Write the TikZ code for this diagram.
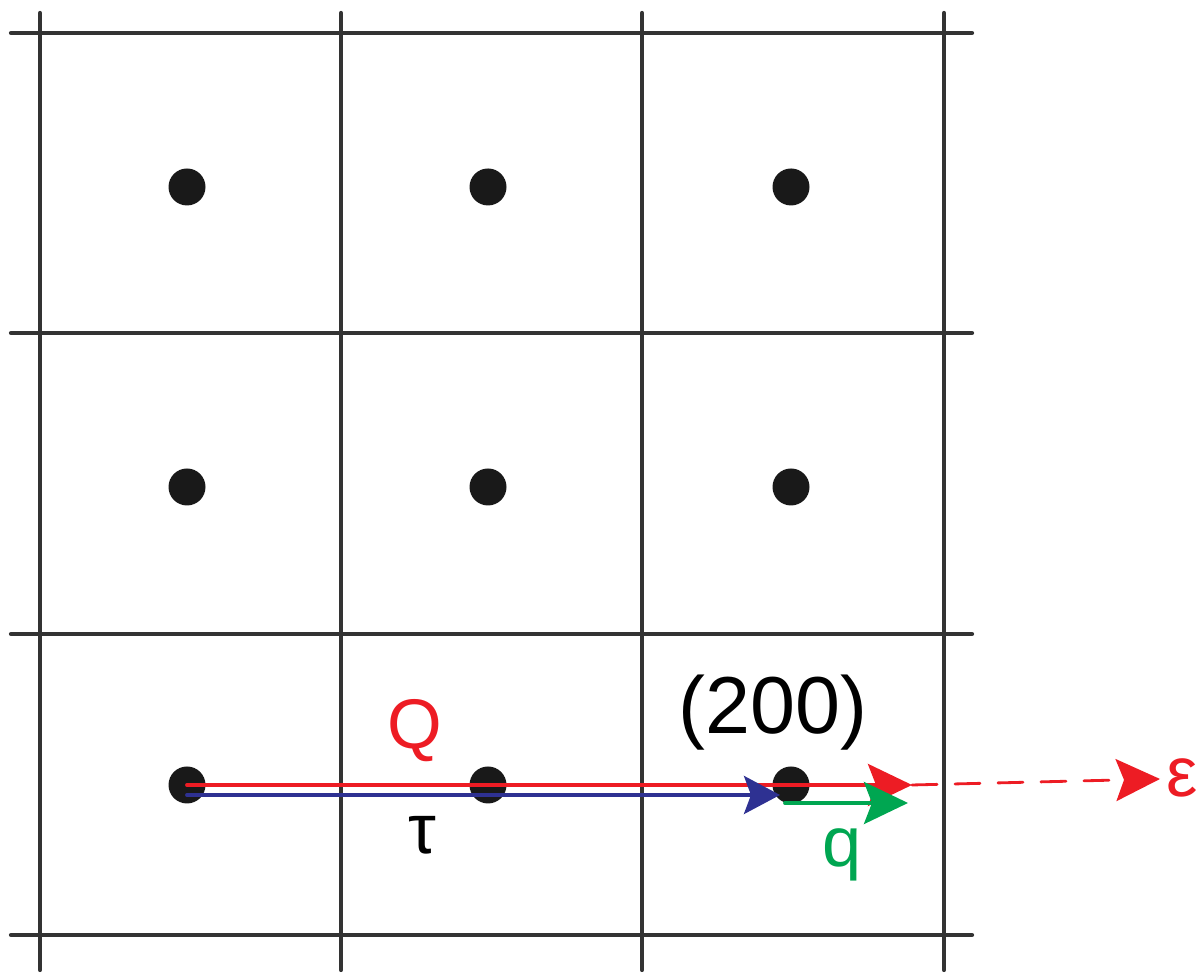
\documentclass[tikz,border=0pt]{standalone}
\usepackage{fontspec}
\setmainfont{Liberation Sans}
\usetikzlibrary{arrows.meta}

\definecolor{vecred}{RGB}{237,28,36}
\definecolor{vecblue}{RGB}{46,49,146}
\definecolor{vecgreen}{RGB}{0,166,81}

\begin{document}
\begin{tikzpicture}[line cap=round,line join=round,
  gridline/.style={line width=1.2pt,black!80},
  site/.style={circle,fill=black!90,inner sep=0pt,minimum size=0.37cm},
  vec/.style={line width=1.1pt,-{Stealth[length=0.44cm,width=0.42cm,inset=0.08cm]}},
  lab/.style={inner sep=0pt,font=\fontsize{20}{24}\selectfont}]
\useasboundingbox (0,0) rectangle (12.04,9.74);
% lattice cells
\foreach \x in {0.40,3.41,6.42,9.44} \draw[gridline] (\x,0.04)--(\x,9.61);
\foreach \y in {0.39,3.40,6.41,9.41} \draw[gridline] (0.11,\y)--(9.72,\y);
% lattice sites
\foreach \x/\i in {1.87/1,4.88/2,7.91/3}
  \foreach \y/\j in {1.89/1,4.87/2,7.87/3}
    \node[site] (s\i\j) at (\x,\y) {};
\coordinate (Qend) at (9.12,1.89);
\coordinate (tstart) at (1.87,1.79);
\coordinate (tend) at (7.80,1.79);
\coordinate (qstart) at (7.85,1.71);
\coordinate (qend) at (9.08,1.71);
\coordinate (eend) at (11.60,1.95);
\draw[vec,vecred] (s11.center)--(Qend);
\draw[vec,vecblue,-{Stealth[length=0.36cm,width=0.38cm,inset=0.07cm]}] (tstart)--(tend);
\draw[vec,vecgreen] (qstart)--(qend);
\draw[vec,vecred,line width=0.8pt,dash pattern=on 0.25cm off 0.18cm] (Qend)--(eend);
\node[lab,vecred] (Qlab) at (4.15,2.43) {Q};
\node[lab] (tlab) at (4.22,1.39) {τ};
\node[lab,font=\fontsize{23}{26}\selectfont] (hkl) at (7.73,2.61) {(200)};
\node[lab,vecgreen] (qlab) at (8.42,1.19) {q};
\node[lab,vecred] (elab) at (11.82,1.96) {ε};
\end{tikzpicture}
\end{document}
